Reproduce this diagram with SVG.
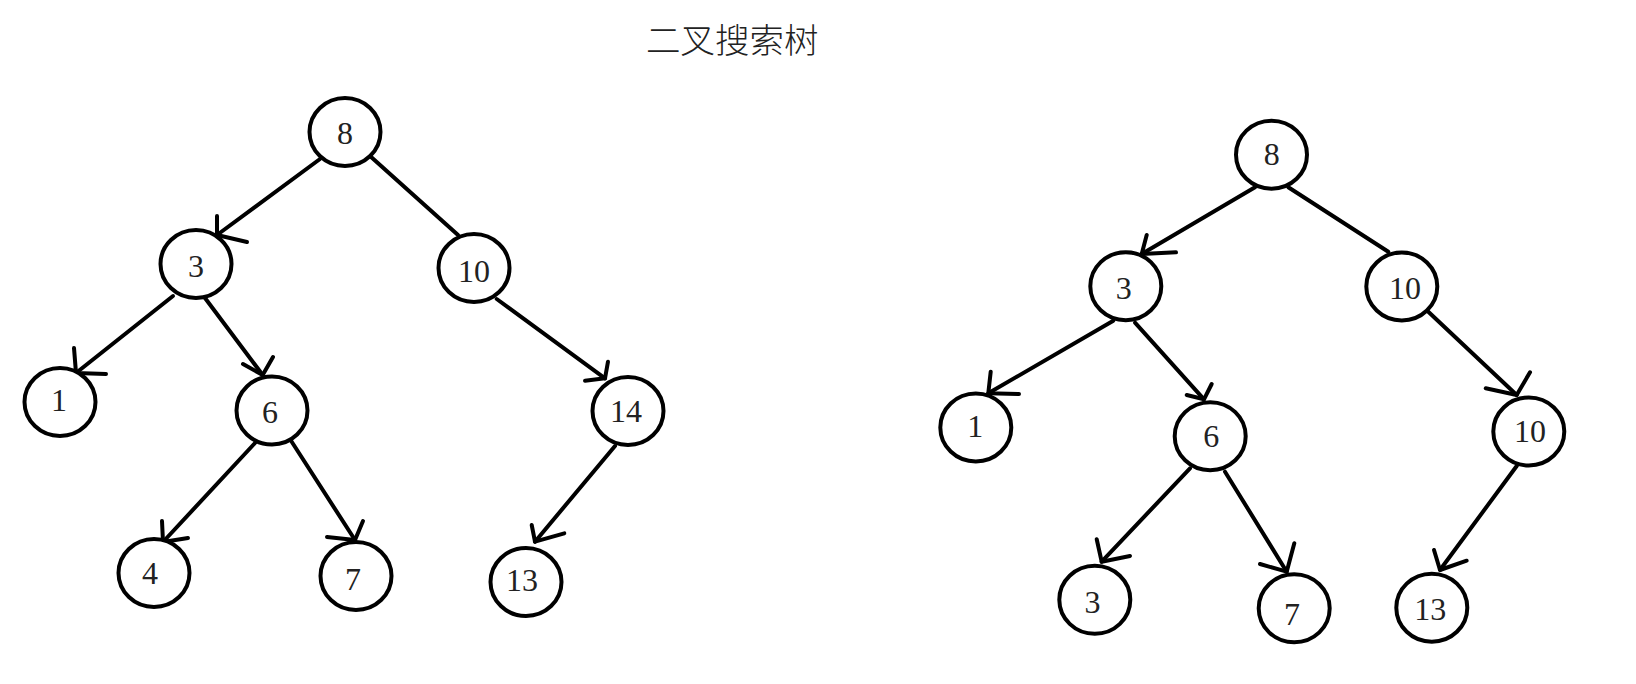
<svg xmlns="http://www.w3.org/2000/svg" width="1636" height="684" viewBox="0 0 1636 684">
<style>
.n ellipse{fill:#fff;stroke:#000;stroke-width:4}
.n text{font-family:"Liberation Serif","Times New Roman",serif;font-size:32px;fill:#222;text-anchor:middle}
.e line,.e polyline{stroke:#000;stroke-width:4;fill:none;stroke-linecap:round;stroke-linejoin:round}
.title{font-family:"Noto Sans CJK SC","Noto Sans",sans-serif;font-size:34.5px;fill:#222;font-weight:300}
</style>
<rect width="1636" height="684" fill="#fff"/>
<text class="title" x="646" y="53">二叉搜索树</text>
<g id="connectors" class="e">
<line x1="320" y1="159" x2="217" y2="235"/><polyline points="217,216 217,235 247,242"/>
<line x1="370" y1="156" x2="458" y2="235"/>
<line x1="173" y1="296" x2="76" y2="373"/><polyline points="74,348 76,373 106,374"/>
<line x1="205" y1="298" x2="262.7" y2="375"/><polyline points="273,357 262.7,375 243,364"/>
<line x1="496.7" y1="299" x2="605" y2="378.3"/><polyline points="608,361.7 605,378.3 585,380.7"/>
<line x1="255" y1="443" x2="163" y2="542"/><polyline points="162,521 163,542 188,538"/>
<line x1="288" y1="436" x2="355" y2="540"/><polyline points="363,521 355,540 327,537"/>
<line x1="615" y1="446" x2="535" y2="541.7"/><polyline points="531.7,525 535,541.7 564.3,533.3"/>
<line x1="1255" y1="187.3" x2="1141.7" y2="254"/><polyline points="1146.7,235 1141.7,254 1176,252.3"/>
<line x1="1288.3" y1="187.3" x2="1388.3" y2="251.7"/>
<line x1="1113.3" y1="320.7" x2="988.3" y2="393.3"/><polyline points="990.7,371.7 988.3,393.3 1019,394"/>
<line x1="1135" y1="322.7" x2="1204" y2="399.3"/><polyline points="1211.7,384 1204,399.3 1186.7,395"/>
<line x1="1428.3" y1="311.7" x2="1516.7" y2="395"/><polyline points="1530,372.3 1516.7,395 1485.7,388.3"/>
<line x1="1190" y1="468.3" x2="1101.7" y2="561.7"/><polyline points="1096.7,539.3 1101.7,561.7 1130,556"/>
<line x1="1225" y1="471.7" x2="1286.7" y2="571.7"/><polyline points="1294.3,543.3 1286.7,571.7 1260,564"/>
<line x1="1516.7" y1="466" x2="1440" y2="570"/><polyline points="1434,550 1440,570 1466.7,560.7"/>
</g>
<g id="L8" class="n"><ellipse cx="345" cy="132" rx="35.5" ry="34"/><text x="345" y="144">8</text></g>
<g id="L3" class="n"><ellipse cx="196" cy="264" rx="35.5" ry="34"/><text x="196" y="277">3</text></g>
<g id="L10" class="n"><ellipse cx="474" cy="268" rx="35.5" ry="34"/><text x="474" y="282">10</text></g>
<g id="L1" class="n"><ellipse cx="60" cy="402" rx="35.5" ry="34"/><text x="59" y="411">1</text></g>
<g id="L6" class="n"><ellipse cx="272" cy="410.5" rx="35.5" ry="34"/><text x="270" y="423">6</text></g>
<g id="L14" class="n"><ellipse cx="628" cy="411" rx="35.5" ry="34"/><text x="626" y="422">14</text></g>
<g id="L4" class="n"><ellipse cx="154" cy="573" rx="35.5" ry="34"/><text x="150" y="584">4</text></g>
<g id="L7" class="n"><ellipse cx="356" cy="576" rx="35.5" ry="34"/><text x="353" y="590">7</text></g>
<g id="L13" class="n"><ellipse cx="526" cy="582" rx="35.5" ry="34"/><text x="522" y="591">13</text></g>
<g id="R8" class="n"><ellipse cx="1271.5" cy="154.7" rx="35.5" ry="34"/><text x="1271.7" y="165">8</text></g>
<g id="R3" class="n"><ellipse cx="1125.8" cy="286.2" rx="35.5" ry="34"/><text x="1123.7" y="299">3</text></g>
<g id="R10" class="n"><ellipse cx="1401.8" cy="286.5" rx="35.5" ry="34"/><text x="1405" y="299">10</text></g>
<g id="R1" class="n"><ellipse cx="975.8" cy="427.5" rx="35.5" ry="34"/><text x="975.3" y="437">1</text></g>
<g id="R6" class="n"><ellipse cx="1210.2" cy="436.2" rx="35.5" ry="34"/><text x="1211.2" y="447">6</text></g>
<g id="R10b" class="n"><ellipse cx="1528.8" cy="431.5" rx="35.5" ry="34"/><text x="1530" y="442">10</text></g>
<g id="R3b" class="n"><ellipse cx="1094.8" cy="599.8" rx="35.5" ry="34"/><text x="1092.5" y="613">3</text></g>
<g id="R7" class="n"><ellipse cx="1294.2" cy="608.3" rx="35.5" ry="34"/><text x="1292" y="625">7</text></g>
<g id="R13" class="n"><ellipse cx="1431.8" cy="607.7" rx="35.5" ry="34"/><text x="1430.3" y="620">13</text></g>
</svg>
